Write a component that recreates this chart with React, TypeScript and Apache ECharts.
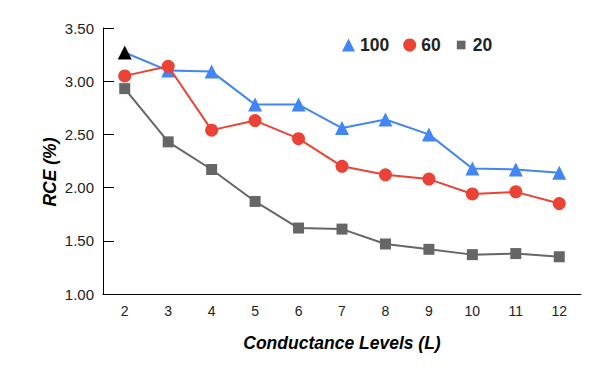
import React, { useEffect, useRef } from "react";
import * as echarts from "echarts";

const categories = ["2", "3", "4", "5", "6", "7", "8", "9", "10", "11", "12"];
const series100 = [3.27, 3.1, 3.09, 2.78, 2.78, 2.56, 2.64, 2.5, 2.18, 2.17, 2.14];
const series60 = [3.05, 3.14, 2.54, 2.63, 2.46, 2.2, 2.12, 2.08, 1.94, 1.96, 1.85];
const series20 = [2.93, 2.43, 2.17, 1.87, 1.62, 1.61, 1.47, 1.42, 1.37, 1.38, 1.35];
const seriesNames = ["100", "60", "20"];

const FONT = "Arial, 'Liberation Sans', sans-serif";

export default function App() {
  const ref = useRef<HTMLDivElement>(null);
  useEffect(() => {
    if (!ref.current) return;
    const chart = echarts.init(ref.current, undefined, { renderer: "svg" });
    const first100 = series100.map((v, i) =>
      i === 0 ? { value: v, itemStyle: { color: "#000000" } } : v
    );
    chart.setOption({
      animation: false,
      textStyle: { fontFamily: FONT },
      legend: {
        top: 31,
        left: 337,
        itemGap: 14,
        itemWidth: 13,
        itemHeight: 13,
        textStyle: { fontSize: 17.5, fontWeight: "bold", color: "#222", fontFamily: FONT },
        data: [
          { name: seriesNames[0], icon: "triangle" },
          { name: seriesNames[1], icon: "circle" },
          { name: seriesNames[2], icon: "path://M0,0M12,12M2,2L10,2L10,10L2,10Z" },
        ],
      },
      grid: { left: 103, right: 19, top: 28, bottom: 86, containLabel: false },
      xAxis: {
        type: "category",
        data: categories,
        boundaryGap: true,
        name: "Conductance Levels (L)",
        nameLocation: "middle",
        nameGap: 40,
        nameMoveOverlap: false,
        nameTextStyle: { fontSize: 17.5, fontWeight: "bold", fontStyle: "italic", color: "#000", fontFamily: FONT },
        axisLine: { lineStyle: { color: "#000", width: 1 } },
        axisTick: { inside: true, alignWithLabel: true, length: 11, lineStyle: { color: "#000" } },
        axisLabel: { fontSize: 14, color: "#222", margin: 10, fontFamily: FONT },
        splitLine: { show: false },
      },
      yAxis: {
        type: "value",
        min: 1,
        max: 3.5,
        interval: 0.5,
        name: "RCE (%)",
        nameLocation: "middle",
        nameGap: 44,
        nameMoveOverlap: false,
        nameTextStyle: { fontSize: 17.5, fontWeight: "bold", fontStyle: "italic", color: "#000", fontFamily: FONT, padding: [0, 22, 0, 0] },
        axisLine: { show: true, lineStyle: { color: "#000", width: 1 } },
        axisTick: { show: true, inside: true, length: 11, lineStyle: { color: "#000" } },
        axisLabel: { fontSize: 15, color: "#222", margin: 9, fontFamily: FONT, formatter: (v: number) => v.toFixed(2) },
        splitLine: { show: false },
      },
      series: [
        {
          name: seriesNames[0],
          type: "line",
          data: first100,
          symbol: "triangle",
          symbolSize: 14,
          itemStyle: { color: "#4285F4" },
          lineStyle: { color: "#4285F4", width: 2 },
          z: 3,
        },
        {
          name: seriesNames[1],
          type: "line",
          data: series60,
          symbol: "circle",
          symbolSize: 13,
          itemStyle: { color: "#EA4335" },
          lineStyle: { color: "#EA4335", width: 2 },
          z: 4,
        },
        {
          name: seriesNames[2],
          type: "line",
          data: series20,
          symbol: "rect",
          symbolSize: 11,
          itemStyle: { color: "#666666" },
          lineStyle: { color: "#666666", width: 2 },
          z: 2,
        },
      ],
    });
    return () => chart.dispose();
  }, []);
  return <div ref={ref} style={{ width: 600, height: 380, position: "absolute", left: 0, top: 0 }} />;
}
